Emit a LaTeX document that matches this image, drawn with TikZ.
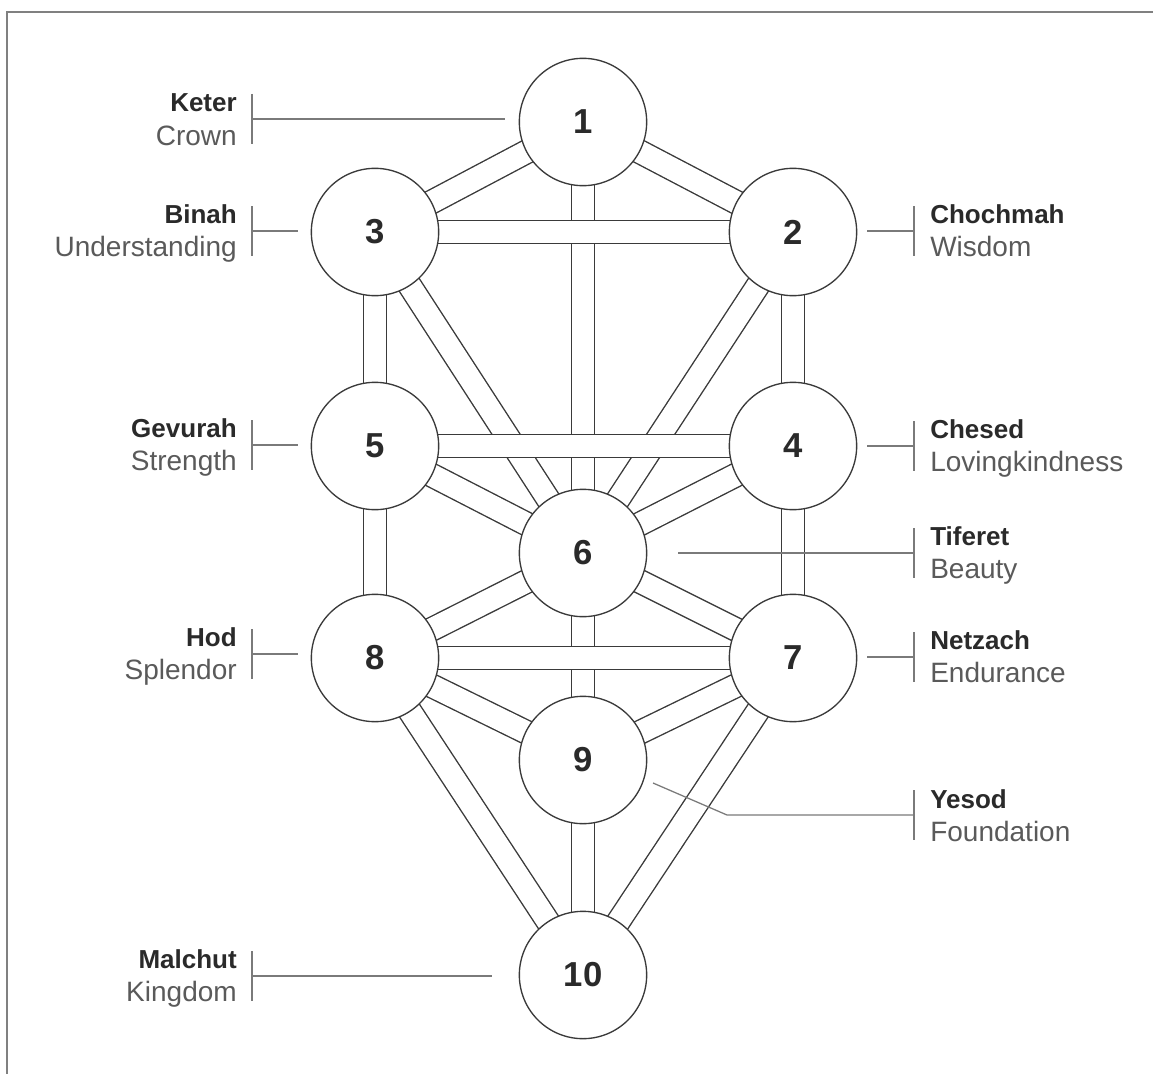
\documentclass[tikz,border=0pt]{standalone}
\usepackage{fontspec}
\setmainfont{Liberation Sans}
\definecolor{edge}{HTML}{3A3A3A}
\definecolor{lead}{HTML}{7A7A7A}
\definecolor{boldtxt}{HTML}{2A2A2A}
\definecolor{regtxt}{HTML}{5A5A5A}
\definecolor{framec}{HTML}{808080}
\pgfdeclarelayer{bg}
\pgfsetlayers{bg,main}
\begin{document}
\begin{tikzpicture}[x=0.75pt,y=-0.75pt,
  sef/.style={circle, draw=edge, line width=1pt, fill=white, minimum size=95.5pt, inner sep=0pt,
    font=\fontsize{26}{30}\selectfont\bfseries, text=boldtxt},
  bar/.style={draw=edge, line width=1.05pt, double=white, double distance=16.6pt},
  leader/.style={draw=lead, line width=0.95pt},
  bname/.style={font=\fontsize{19.5}{22}\selectfont\bfseries, text=boldtxt, inner sep=0pt},
  gname/.style={font=\fontsize{21}{24}\selectfont, text=regtxt, inner sep=0pt},
  framel/.style={draw=framec, line width=1.5pt}]
\begin{pgfonlayer}{bg}
\fill[white] (0,0) rectangle (1153,1074);
\end{pgfonlayer}
\useasboundingbox (0,0) rectangle (1153,1074);
\draw[framel] (7,1074) -- (7,12) -- (1153,12);

% sefirot
\node[sef] (n1) at (583,122) {1};
\node[sef] (n2) at (793,232) {2};
\node[sef] (n3) at (375,232) {3};
\node[sef] (n4) at (793,446) {4};
\node[sef] (n5) at (375,446) {5};
\node[sef] (n6) at (583,553) {6};
\node[sef] (n7) at (793,658) {7};
\node[sef] (n8) at (375,658) {8};
\node[sef] (n9) at (583,760) {9};
\node[sef] (n10) at (583,975) {10};

% paths
\begin{pgfonlayer}{bg}
\draw[bar] (n1.center) -- (n2.center);
\draw[bar] (n1.center) -- (n3.center);
\draw[bar] (n1.center) -- (n6.center);
\draw[bar] (n2.center) -- (n4.center);
\draw[bar] (n2.center) -- (n6.center);
\draw[bar] (n3.center) -- (n5.center);
\draw[bar] (n3.center) -- (n6.center);
\draw[bar] (n4.center) -- (n6.center);
\draw[bar] (n4.center) -- (n7.center);
\draw[bar] (n5.center) -- (n6.center);
\draw[bar] (n5.center) -- (n8.center);
\draw[bar] (n6.center) -- (n7.center);
\draw[bar] (n6.center) -- (n8.center);
\draw[bar] (n6.center) -- (n9.center);
\draw[bar] (n7.center) -- (n9.center);
\draw[bar] (n8.center) -- (n9.center);
\draw[bar] (n7.center) -- (n10.center);
\draw[bar] (n8.center) -- (n10.center);
\draw[bar] (n9.center) -- (n10.center);
% horizontal paths on top
\draw[bar] (n3.center) -- (n2.center);
\draw[bar] (n5.center) -- (n4.center);
\draw[bar] (n8.center) -- (n7.center);
\end{pgfonlayer}

% left labels
\node[bname, anchor=base east] (keter) at (237,112) {Keter};
\node[gname, anchor=base east] (crown) at (237,145) {Crown};
\coordinate (kA) at (252,94); \coordinate (kB) at (252,144);
\coordinate (kC) at (252,119); \coordinate (kD) at (505,119);
\draw[leader] (kA) -- (kB); \draw[leader] (kC) -- (kD);

\node[bname, anchor=base east] (binah) at (237,223) {Binah};
\node[gname, anchor=base east] (underst) at (237,256) {Understanding};
\coordinate (bA) at (252,206); \coordinate (bB) at (252,256);
\coordinate (bC) at (252,231); \coordinate (bD) at (298,231);
\draw[leader] (bA) -- (bB); \draw[leader] (bC) -- (bD);

\node[bname, anchor=base east] (gevurah) at (237,437) {Gevurah};
\node[gname, anchor=base east] (strength) at (237,470) {Strength};
\coordinate (gA) at (252,420); \coordinate (gB) at (252,470);
\coordinate (gC) at (252,445); \coordinate (gD) at (298,445);
\draw[leader] (gA) -- (gB); \draw[leader] (gC) -- (gD);

\node[bname, anchor=base east] (hod) at (237,646) {Hod};
\node[gname, anchor=base east] (splendor) at (237,679) {Splendor};
\coordinate (hA) at (252,629); \coordinate (hB) at (252,679);
\coordinate (hC) at (252,654); \coordinate (hD) at (298,654);
\draw[leader] (hA) -- (hB); \draw[leader] (hC) -- (hD);

\node[bname, anchor=base east] (malchut) at (237,968) {Malchut};
\node[gname, anchor=base east] (kingdom) at (237,1001) {Kingdom};
\coordinate (mA) at (252,951); \coordinate (mB) at (252,1001);
\coordinate (mC) at (252,976); \coordinate (mD) at (492,976);
\draw[leader] (mA) -- (mB); \draw[leader] (mC) -- (mD);

% right labels
\node[bname, anchor=base west] (chochmah) at (930,223) {Chochmah};
\node[gname, anchor=base west] (wisdom) at (930,256) {Wisdom};
\coordinate (cA) at (914,206); \coordinate (cB) at (914,256);
\coordinate (cC) at (914,231); \coordinate (cD) at (867,231);
\draw[leader] (cA) -- (cB); \draw[leader] (cC) -- (cD);

\node[bname, anchor=base west] (chesed) at (930,438) {Chesed};
\node[gname, anchor=base west] (loving) at (930,471) {Lovingkindness};
\coordinate (eA) at (914,421); \coordinate (eB) at (914,471);
\coordinate (eC) at (914,446); \coordinate (eD) at (867,446);
\draw[leader] (eA) -- (eB); \draw[leader] (eC) -- (eD);

\node[bname, anchor=base west] (tiferet) at (930,545) {Tiferet};
\node[gname, anchor=base west] (beauty) at (930,578) {Beauty};
\coordinate (tA) at (914,528); \coordinate (tB) at (914,578);
\coordinate (tC) at (914,553); \coordinate (tD) at (678,553);
\draw[leader] (tA) -- (tB); \draw[leader] (tC) -- (tD);

\node[bname, anchor=base west] (netzach) at (930,649) {Netzach};
\node[gname, anchor=base west] (endurance) at (930,682) {Endurance};
\coordinate (zA) at (914,632); \coordinate (zB) at (914,682);
\coordinate (zC) at (914,657); \coordinate (zD) at (867,657);
\draw[leader] (zA) -- (zB); \draw[leader] (zC) -- (zD);

\node[bname, anchor=base west] (yesod) at (930,808) {Yesod};
\node[gname, anchor=base west] (foundation) at (930,841) {Foundation};
\coordinate (yA) at (914,790); \coordinate (yB) at (914,840);
\coordinate (yC) at (914,815); \coordinate (yE) at (727,815); \coordinate (yD) at (653,783);
\draw[leader] (yA) -- (yB); \draw[leader] (yC) -- (yE) -- (yD);
\end{tikzpicture}
\end{document}
